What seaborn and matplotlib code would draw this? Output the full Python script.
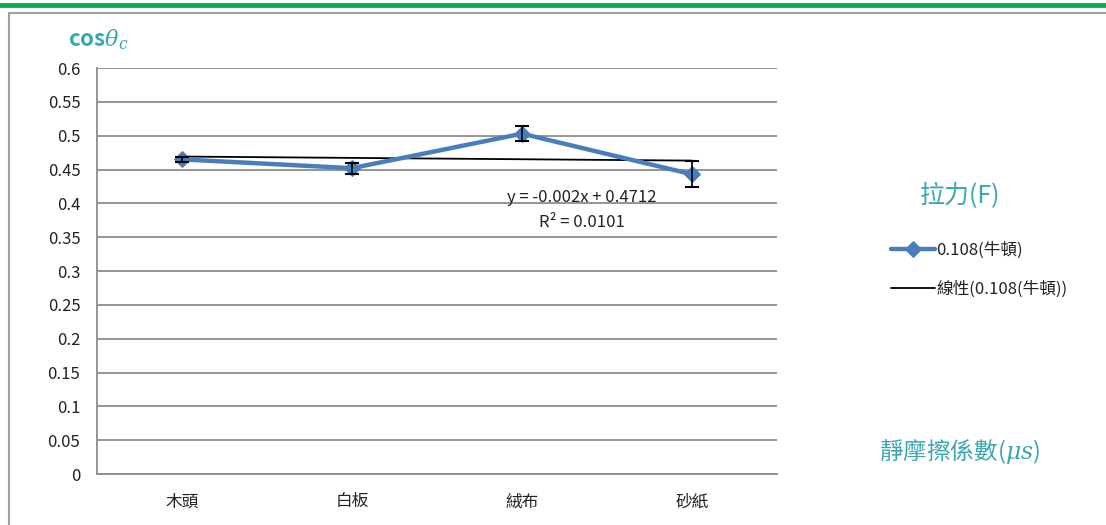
# -*- coding: UTF-8 -*-
import matplotlib
matplotlib.use("Agg")
import matplotlib.pyplot as plt
from matplotlib.lines import Line2D
import numpy as np
import pandas as pd
import seaborn as sns

# data
surfaces = ["木頭", "白板", "絨布", "砂紙"]
cos_values = [0.465, 0.452, 0.503, 0.443]
errors = [0.004, 0.008, 0.011, 0.019]
trend_slope = -0.002
trend_intercept = 0.4712
y_ticks = [0, 0.05, 0.1, 0.15, 0.2, 0.25, 0.3, 0.35, 0.4, 0.45, 0.5, 0.55, 0.6]

sns.set_style("white")
plt.rcParams['font.family'] = ['Noto Sans CJK TC', 'DejaVu Sans']
plt.rcParams['mathtext.fontset'] = 'dejavuserif'

teal = "#3aa6ae"
blue = "#4a7ebb"
grid_gray = "#8c8c8c"

fig = plt.figure(figsize=(11.06, 5.25), dpi=100)
ax = fig.add_axes([0.0877, 0.0971, 0.6148, 0.7733])

x_pos = np.arange(1, len(surfaces) + 1)
df = pd.DataFrame({"x": x_pos, "y": cos_values})

# gridlines
for t in y_ticks:
    ax.axhline(t, color=grid_gray, lw=1.3, zorder=0)

# main series
sns.lineplot(data=df, x="x", y="y", ax=ax, color=blue, lw=3.2, marker="D",
             markersize=8, markeredgecolor=blue, label="0.108(牛頓)", zorder=3)
ax.errorbar(x_pos, cos_values, yerr=errors, fmt="none", ecolor="black",
            elinewidth=1.2, capsize=5, capthick=1.5, zorder=4)

# linear trendline (from the equation shown in the chart)
trend_df = pd.DataFrame({"x": [x_pos[0], x_pos[-1]],
                         "y": [trend_slope * x_pos[0] + trend_intercept,
                               trend_slope * x_pos[-1] + trend_intercept]})
sns.lineplot(data=trend_df, x="x", y="y", ax=ax, color="black", lw=1.3,
             label="線性(0.108(牛頓))", zorder=2)

ax.set_xlim(0.5, len(surfaces) + 0.5)
ax.set_ylim(0, 0.6)
ax.set_yticks(y_ticks)
ax.set_yticklabels([("%g" % t) for t in y_ticks], fontsize=12, color="#222222")
ax.set_xticks(x_pos)
ax.set_xticklabels(surfaces, fontsize=12, color="#222222")
ax.set_xticks(np.arange(0.5, len(surfaces) + 1), minor=True)
ax.tick_params(axis="x", which="major", length=0, pad=14)
ax.tick_params(axis="x", which="minor", length=6, width=1.3, color=grid_gray, direction="out")
ax.tick_params(axis="y", length=6, width=1.3, color=grid_gray, direction="out", pad=6)
ax.set_xlabel("")
ax.set_ylabel("")
for side in ["top", "right"]:
    ax.spines[side].set_visible(False)
for side in ["left", "bottom"]:
    ax.spines[side].set_color(grid_gray)
    ax.spines[side].set_linewidth(1.3)

# trendline equation
ax.text(3.35, 0.408, "y = -0.002x + 0.4712", ha="center", va="center", fontsize=12, color="#222222")
ax.text(3.35, 0.371, "R² = 0.0101", ha="center", va="center", fontsize=12, color="#222222")

# legend
leg = ax.legend(loc="upper left", bbox_to_anchor=(1.146, 0.61), frameon=False,
                fontsize=12, handlelength=2.6, handletextpad=0.1, labelspacing=1.3)
for txt in leg.get_texts():
    txt.set_color("#222222")

# titles
fig.text(960 / 1106, 1 - 196 / 525, "拉力(F)", color=teal, fontsize=18,
         ha="center", va="center", fontweight="medium")
fig.text(68 / 1106, 1 - 40 / 525, r"cos$\theta_c$", color=teal, fontsize=16,
         ha="left", va="center", fontweight="bold")
fig.text(960 / 1106, 1 - 451 / 525, r"靜摩擦係數($\mu s$)", color=teal, fontsize=17,
         ha="center", va="center")

# frame decorations
fig.add_artist(Line2D([0, 1], [1 - 5 / 525, 1 - 5 / 525], color="#00b050", lw=3.5))
fig.add_artist(Line2D([9 / 1106, 1], [1 - 13 / 525, 1 - 13 / 525], color="#a0a0a0", lw=1.5))
fig.add_artist(Line2D([9 / 1106, 9 / 1106], [0, 1 - 13 / 525], color="#a0a0a0", lw=1.5))

fig.savefig("out.png", dpi=100)
